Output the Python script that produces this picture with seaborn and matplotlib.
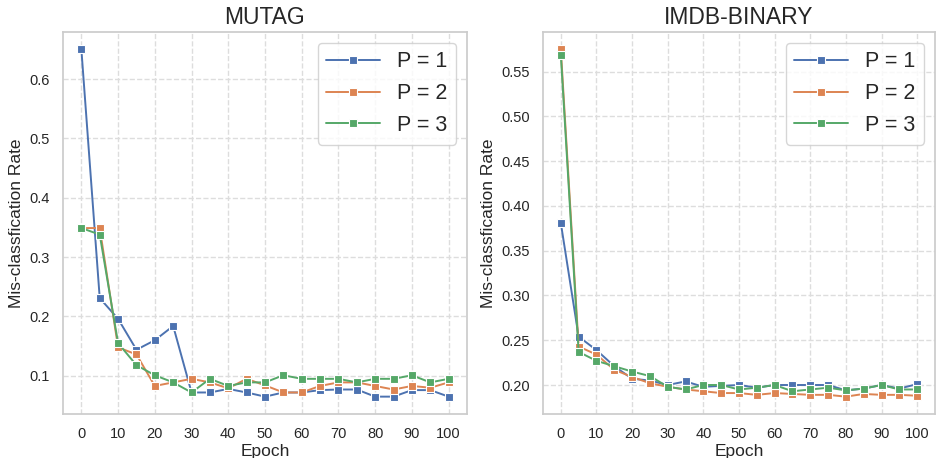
import matplotlib
matplotlib.use("Agg")
import matplotlib.pyplot as plt
import seaborn as sns
import pandas as pd

epochs = list(range(0, 101, 5))

mutag_p1 = [0.650, 0.231, 0.196, 0.144, 0.160, 0.184, 0.072, 0.072, 0.078, 0.072, 0.065,
            0.072, 0.072, 0.076, 0.077, 0.077, 0.065, 0.065, 0.076, 0.076, 0.065]
mutag_p2 = [0.349, 0.349, 0.148, 0.136, 0.083, 0.089, 0.095, 0.089, 0.079, 0.095, 0.084,
            0.072, 0.072, 0.083, 0.089, 0.089, 0.083, 0.077, 0.083, 0.080, 0.089]
mutag_p3 = [0.349, 0.338, 0.155, 0.118, 0.101, 0.089, 0.072, 0.095, 0.083, 0.089, 0.089,
            0.101, 0.095, 0.095, 0.095, 0.089, 0.095, 0.095, 0.101, 0.089, 0.095]

imdb_p1 = [0.381, 0.254, 0.239, 0.221, 0.207, 0.205, 0.200, 0.204, 0.198, 0.199, 0.200,
           0.197, 0.200, 0.200, 0.200, 0.200, 0.194, 0.196, 0.200, 0.196, 0.201]
imdb_p2 = [0.575, 0.243, 0.234, 0.217, 0.209, 0.202, 0.198, 0.195, 0.193, 0.191, 0.191,
           0.189, 0.191, 0.190, 0.189, 0.189, 0.187, 0.190, 0.189, 0.189, 0.188]
imdb_p3 = [0.569, 0.237, 0.227, 0.221, 0.215, 0.210, 0.198, 0.195, 0.200, 0.200, 0.195,
           0.197, 0.200, 0.193, 0.195, 0.197, 0.194, 0.196, 0.200, 0.195, 0.195]

labels = ['P = 1', 'P = 2', 'P = 3']


def make_df(series):
    rows = []
    for lab, vals in zip(labels, series):
        for e, v in zip(epochs, vals):
            rows.append((e, v, lab))
    return pd.DataFrame(rows, columns=['Epoch', 'rate', 'P'])


sns.set_theme(style="whitegrid")
plt.rcParams['font.family'] = ['Liberation Sans', 'DejaVu Sans']
plt.rcParams['grid.linestyle'] = '--'
plt.rcParams['grid.color'] = '#dddddd'

fig = plt.figure(figsize=(9.38, 4.58), dpi=100)
W, H = 938, 458
ax1 = fig.add_axes([63 / W, 44 / H, 404 / W, 382 / H])
ax2 = fig.add_axes([543 / W, 44 / H, 392 / W, 382 / H])

panels = [(ax1, 'MUTAG', [mutag_p1, mutag_p2, mutag_p3]),
          (ax2, 'IMDB-BINARY', [imdb_p1, imdb_p2, imdb_p3])]

for ax, title, series in panels:
    df = make_df(series)
    sns.lineplot(data=df, x='Epoch', y='rate', hue='P', marker='s', markersize=6,
                 markeredgecolor='white', markeredgewidth=0.8, linewidth=1.4, ax=ax)
    ax.set_title(title, fontsize=16.5)
    ax.set_xlabel('Epoch', fontsize=12.5, labelpad=2)
    ax.set_ylabel('Mis-classfication Rate', fontsize=12.5)
    ax.set_xticks(range(0, 101, 10))
    ax.tick_params(labelsize=10.5)
    ax.legend(loc='upper right', fontsize=15.5, handlelength=2.5, title=None)

ax2.set_yticks([0.20, 0.25, 0.30, 0.35, 0.40, 0.45, 0.50, 0.55])
ax2.set_yticklabels([f'{v:.2f}' for v in [0.20, 0.25, 0.30, 0.35, 0.40, 0.45, 0.50, 0.55]])

plt.savefig('out.png', dpi=100)
